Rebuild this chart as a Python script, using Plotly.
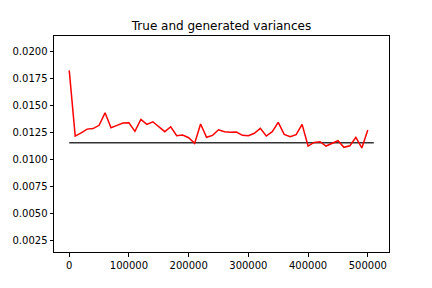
import plotly.graph_objects as go

steps = [i * 10000 for i in range(51)]
generated_var = [0.0183, 0.0122, 0.0125, 0.01285, 0.0129, 0.0132, 0.01436, 0.01298, 0.0132, 0.01341,
                 0.01344, 0.01264, 0.01375, 0.01329, 0.01353, 0.01307, 0.01261, 0.01307, 0.01224, 0.0123,
                 0.01205, 0.01153, 0.01332, 0.01209, 0.01227, 0.01279, 0.01261, 0.01256, 0.01258, 0.01227,
                 0.01224, 0.01246, 0.01292, 0.01221, 0.01261, 0.01347, 0.01236, 0.01214, 0.01233, 0.01329,
                 0.01128, 0.01162, 0.01168, 0.01128, 0.01156, 0.01177, 0.01116, 0.01131, 0.01209, 0.0111,
                 0.01276]
true_x = [0, 510000]
true_var = [0.01159, 0.01159]

x_ticks = [0, 100000, 200000, 300000, 400000, 500000]
y_ticks = [0.0025, 0.005, 0.0075, 0.01, 0.0125, 0.015, 0.0175, 0.02]

fig = go.Figure()
fig.add_trace(go.Scatter(x=true_x, y=true_var, mode="lines",
                         line=dict(color="#333333", width=1.5), showlegend=False))
fig.add_trace(go.Scatter(x=steps, y=generated_var, mode="lines",
                         line=dict(color="red", width=1.5), showlegend=False))

axis_common = dict(showline=True, linecolor="black", linewidth=1, mirror=True,
                   ticks="outside", ticklen=3.5, tickwidth=1, tickcolor="black",
                   showgrid=False, zeroline=False,
                   tickfont=dict(family="DejaVu Sans", size=10, color="black"))

fig.update_layout(
    width=432, height=288,
    margin=dict(l=54, r=43, t=36, b=36),
    paper_bgcolor="white", plot_bgcolor="white",
    title=dict(text="True and generated variances", x=0.5, xref="paper", xanchor="center",
               y=1, yref="paper", yanchor="bottom", pad=dict(b=6),
               font=dict(family="DejaVu Sans", size=12, color="black")),
    xaxis=dict(range=[-25500, 535500], tickvals=x_ticks, ticktext=[str(v) for v in x_ticks], **axis_common),
    yaxis=dict(range=[0.00146, 0.02148], tickvals=y_ticks, ticktext=[f"{v:.4f}" for v in y_ticks], **axis_common),
)

fig.write_html("out.html", config={"displayModeBar": False, "staticPlot": True},
               post_script="document.body.style.margin='0';document.body.style.overflow='hidden';")
